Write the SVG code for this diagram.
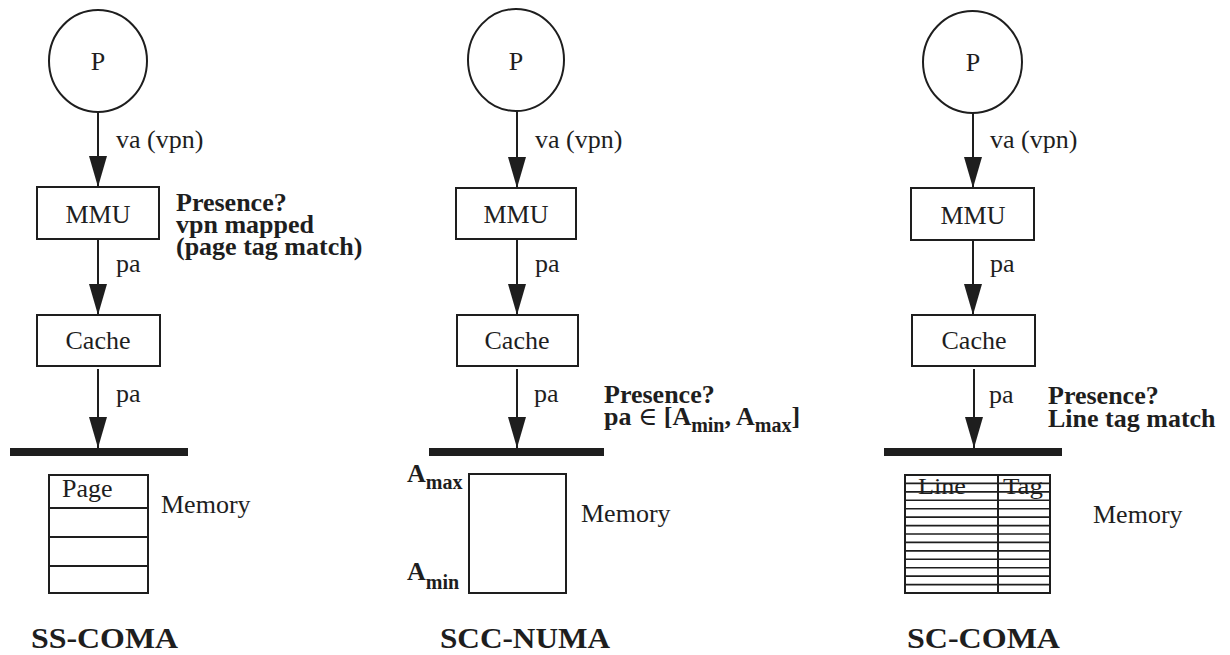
<svg xmlns="http://www.w3.org/2000/svg" width="1230" height="655" viewBox="0 0 1230 655" font-family="'Liberation Serif', Tinos, 'DejaVu Serif', serif">
<style>
text{font-family:'Liberation Serif',Tinos,'DejaVu Serif',serif;fill:#1e1e1e;font-size:26px}
.b{font-weight:bold;font-size:26px}
.t{font-size:29px;font-weight:bold}
.sub{font-size:20px}
.sh{fill:none;stroke:#1e1e1e;stroke-width:2}
.bus{stroke:#1e1e1e;stroke-width:8}
.ln{stroke:#1e1e1e;stroke-width:2;marker-end:url(#ah)}
.th{stroke:#1e1e1e;stroke-width:1.6}
</style>
<defs>
<marker id="ah" markerUnits="userSpaceOnUse" markerWidth="32" markerHeight="18" viewBox="0 0 32 18" refX="31" refY="9" orient="auto">
<path d="M0,0 L31,9 L0,18 Z" fill="#1e1e1e"/>
</marker>
</defs>

<g id="connectors">
<line class="ln" x1="98" y1="112" x2="98" y2="187"/>
<line class="ln" x1="98" y1="239" x2="98" y2="315"/>
<line class="ln" x1="98" y1="369" x2="98" y2="448"/>
<line class="ln" x1="517" y1="111" x2="517" y2="188"/>
<line class="ln" x1="517" y1="239" x2="517" y2="315"/>
<line class="ln" x1="517" y1="369" x2="517" y2="448"/>
<line class="ln" x1="973" y1="113" x2="973" y2="188"/>
<line class="ln" x1="973" y1="240" x2="973" y2="315"/>
<line class="ln" x1="974" y1="369" x2="974" y2="448"/>
</g>

<!-- SS-COMA -->
<g id="ss-p"><ellipse class="sh" cx="98" cy="61" rx="49" ry="51"/><text x="98" y="70" text-anchor="middle">P</text></g>
<g id="ss-mmu"><rect class="sh" x="37" y="187" width="122" height="52"/><text x="98" y="223" text-anchor="middle">MMU</text></g>
<g id="ss-cache"><rect class="sh" x="37" y="315" width="123" height="51"/><text x="98" y="349" text-anchor="middle">Cache</text></g>
<g id="ss-bus"><line class="bus" x1="10" y1="452" x2="188" y2="452"/></g>
<g id="ss-mem">
<rect class="sh" x="49" y="475" width="99" height="118"/>
<line class="sh" x1="49" y1="508" x2="148" y2="508"/>
<line class="sh" x1="49" y1="537" x2="148" y2="537"/>
<line class="sh" x1="49" y1="566" x2="148" y2="566"/>
<text x="62" y="497">Page</text>
<text x="161" y="513">Memory</text>
</g>
<g id="ss-labels">
<text x="116" y="148">va (vpn)</text>
<text x="116" y="272">pa</text>
<text x="116" y="402">pa</text>
<text class="b" x="176" y="211">Presence?<tspan x="176" dy="22">vpn mapped</tspan><tspan x="176" dy="22">(page tag match)</tspan></text>
<text class="t" x="31" y="648" textLength="147" lengthAdjust="spacingAndGlyphs">SS-COMA</text>
</g>

<!-- SCC-NUMA -->
<g id="scc-p"><ellipse class="sh" cx="516" cy="60" rx="48" ry="51"/><text x="516" y="70" text-anchor="middle">P</text></g>
<g id="scc-mmu"><rect class="sh" x="456" y="188" width="120" height="51"/><text x="516" y="223" text-anchor="middle">MMU</text></g>
<g id="scc-cache"><rect class="sh" x="457" y="315" width="121" height="51"/><text x="517" y="349" text-anchor="middle">Cache</text></g>
<g id="scc-bus"><line class="bus" x1="429" y1="452" x2="604" y2="452"/></g>
<g id="scc-mem">
<rect class="sh" x="469" y="474" width="97" height="119"/>
<text x="581" y="522">Memory</text>
<text class="b" x="407" y="482">A<tspan class="sub" dy="7">max</tspan></text>
<text class="b" x="407" y="580">A<tspan class="sub" dy="9">min</tspan></text>
</g>
<g id="scc-labels">
<text x="535" y="148">va (vpn)</text>
<text x="535" y="272">pa</text>
<text x="534" y="402">pa</text>
<text class="b" x="604" y="403">Presence?<tspan x="604" dy="22">pa <tspan style="font-weight:normal">∈</tspan> [A</tspan><tspan class="sub" dy="7">min</tspan><tspan dy="-7">, A</tspan><tspan class="sub" dy="7">max</tspan><tspan dy="-7">]</tspan></text>
<text class="t" x="440" y="648" textLength="170" lengthAdjust="spacingAndGlyphs">SCC-NUMA</text>
</g>

<!-- SC-COMA -->
<g id="sc-p"><ellipse class="sh" cx="972.5" cy="62" rx="49.5" ry="51"/><text x="973" y="71" text-anchor="middle">P</text></g>
<g id="sc-mmu"><rect class="sh" x="911" y="188" width="123" height="52"/><text x="973" y="224" text-anchor="middle">MMU</text></g>
<g id="sc-cache"><rect class="sh" x="912" y="315" width="123" height="51"/><text x="974" y="349" text-anchor="middle">Cache</text></g>
<g id="sc-bus"><line class="bus" x1="884" y1="452" x2="1062" y2="452"/></g>
<g id="sc-mem">
<text x="918" y="494" style="font-size:24px" textLength="48" lengthAdjust="spacingAndGlyphs">Line</text>
<text x="1003" y="494" style="font-size:24px" textLength="40" lengthAdjust="spacingAndGlyphs">Tag</text>
<rect class="sh" x="905" y="475" width="145" height="118"/>
<line class="sh" x1="998" y1="475" x2="998" y2="593"/>
<g class="th">
<line x1="905" y1="483.4" x2="1050" y2="483.4"/>
<line x1="905" y1="491.9" x2="1050" y2="491.9"/>
<line x1="905" y1="500.3" x2="1050" y2="500.3"/>
<line x1="905" y1="508.7" x2="1050" y2="508.7"/>
<line x1="905" y1="517.1" x2="1050" y2="517.1"/>
<line x1="905" y1="525.6" x2="1050" y2="525.6"/>
<line x1="905" y1="534" x2="1050" y2="534"/>
<line x1="905" y1="542.4" x2="1050" y2="542.4"/>
<line x1="905" y1="550.9" x2="1050" y2="550.9"/>
<line x1="905" y1="559.3" x2="1050" y2="559.3"/>
<line x1="905" y1="567.7" x2="1050" y2="567.7"/>
<line x1="905" y1="576.1" x2="1050" y2="576.1"/>
<line x1="905" y1="584.6" x2="1050" y2="584.6"/>
</g>
<text x="1093" y="523">Memory</text>
</g>
<g id="sc-labels">
<text x="990" y="148">va (vpn)</text>
<text x="990" y="272">pa</text>
<text x="989" y="403">pa</text>
<text class="b" x="1048" y="404">Presence?<tspan x="1048" dy="23">Line tag match</tspan></text>
<text class="t" x="907" y="648" textLength="153" lengthAdjust="spacingAndGlyphs">SC-COMA</text>
</g>
</svg>
